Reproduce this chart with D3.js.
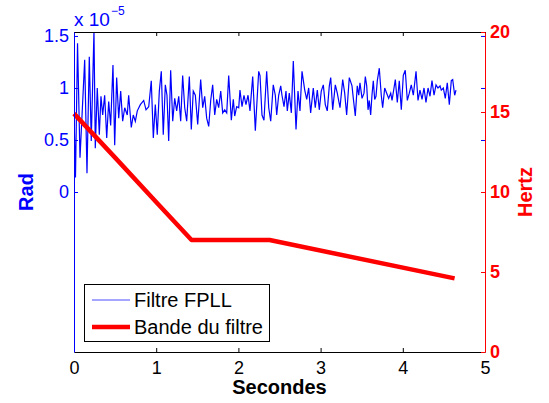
<!DOCTYPE html>
<html><head><meta charset="utf-8">
<script src="https://cdn.jsdelivr.net/npm/d3@7"></script>
<style>body{margin:0;background:#fff}svg{display:block}text{font-family:"Liberation Sans",Arial,sans-serif}</style>
</head><body><svg id="c" width="549" height="403"></svg>
<script>
// Filtre FPLL signal (Rad, in units of 1e-5) vs time (s)
const sigTime = [0,0.018,0.043,0.073,0.130,0.158,0.186,0.210,0.243,0.259,0.283,0.308,0.328,0.349,0.373,0.398,0.422,0.446,0.474,0.495,
0.519,0.544,0.568,0.592,0.617,0.648,0.665,0.697,0.721,0.746,0.770,0.807,0.848,0.876,0.909,0.940,0.965,0.989,1.013,1.038,
1.062,1.086,1.111,1.131,1.152,1.176,1.201,1.225,1.249,1.274,1.298,1.322,1.347,1.371,1.403,1.427,1.451,1.476,1.505,1.541,
1.566,1.590,1.614,1.639,1.663,1.687,1.712,1.736,1.760,1.785,1.809,1.833,1.858,1.882,1.914,1.938,1.955,1.979,2.004,2.019,
2.044,2.068,2.092,2.117,2.141,2.174,2.206,2.247,2.263,2.287,2.311,2.344,2.369,2.393,2.424,2.449,2.466,2.490,2.515,2.530,
2.555,2.579,2.595,2.619,2.644,2.668,2.701,2.725,2.749,2.774,2.807,2.831,2.855,2.879,2.911,2.935,2.960,2.984,3.008,3.033,
3.057,3.081,3.106,3.123,3.147,3.179,3.203,3.236,3.269,3.293,3.317,3.349,3.382,3.398,3.422,3.446,3.464,3.479,3.504,3.528,
3.544,3.561,3.577,3.592,3.609,3.625,3.641,3.658,3.674,3.690,3.714,3.738,3.755,3.780,3.804,3.828,3.853,3.869,3.893,3.909,
3.933,3.957,3.982,4.006,4.030,4.055,4.079,4.103,4.128,4.161,4.185,4.209,4.234,4.258,4.282,4.307,4.331,4.355,4.380,4.404,
4.428,4.453,4.468,4.493,4.517,4.541,4.566,4.590,4.607,4.631,4.647];
const sigRad = [0.75,0.14,1.43,0.33,1.27,0.18,1.30,0.49,1.55,0.42,1.00,0.55,0.92,0.74,0.93,0.52,0.87,0.64,1.22,0.45,
1.10,0.71,0.97,0.68,0.81,0.74,0.93,0.62,0.74,0.68,0.78,0.84,0.88,0.79,0.82,1.07,0.52,0.84,0.55,0.97,
1.16,0.55,1.03,0.93,0.49,1.17,0.68,0.90,0.78,0.92,0.68,1.12,0.81,0.68,1.11,0.60,0.97,0.93,0.65,1.08,
0.81,0.92,0.71,0.63,0.88,1.03,0.74,0.89,0.81,0.97,0.76,0.79,0.76,1.12,0.69,0.89,0.73,0.82,0.81,0.98,
0.82,0.93,0.84,0.93,0.78,1.11,0.59,1.16,1.12,0.74,0.69,1.16,0.81,0.68,1.03,0.93,0.74,0.93,1.02,0.93,
0.82,0.97,0.78,0.95,0.76,1.26,0.60,0.97,0.78,1.16,0.98,0.89,1.00,0.76,1.00,0.81,0.98,0.79,0.97,1.03,
0.84,0.78,1.02,1.10,0.79,1.03,0.95,0.81,1.08,0.95,0.74,1.10,1.02,0.90,0.73,1.02,0.93,1.05,0.90,0.95,
1.11,1.02,0.79,0.88,0.74,0.93,1.07,0.89,0.92,1.07,1.19,0.93,0.81,1.00,0.95,0.90,0.95,0.88,1.00,1.08,
0.86,1.07,0.79,1.12,1.17,0.88,0.95,1.03,0.93,1.16,0.88,0.98,0.89,1.00,0.86,1.00,0.92,1.07,0.93,1.03,
1.00,1.02,0.98,1.00,0.90,1.05,0.84,1.07,1.08,0.93,0.98];
// Bande du filtre (Hz) vs time (s)
const bandTime = [0, 0.5, 1.03, 1.43, 2.38, 4.63];
const bandHz = [14.9, 12.15, 9.2, 7.0, 7.0, 4.6];
const xTicks = [0, 1, 2, 3, 4, 5];
const radTicks = [0, 0.5, 1, 1.5];
const hzTicks = [0, 5, 10, 15, 20];
const legendLabels = ["Filtre FPLL", "Bande du filtre"];

const W = 549, H = 403, m = {l: 74, r: 64, t: 32, b: 51};
const svg = d3.select("#c");
const x = d3.scaleLinear().domain([0, 5]).range([m.l, W - m.r]);
const yL = d3.scaleLinear().domain([-1.538, 1.538]).range([H - m.b, m.t]);
const yR = d3.scaleLinear().domain([0, 20]).range([H - m.b, m.t]);
const BLUE = "#0000ff", RED = "#ff0000";

svg.append("defs").append("clipPath").attr("id", "clip").append("rect")
  .attr("x", m.l).attr("y", m.t).attr("width", W - m.l - m.r).attr("height", H - m.t - m.b);

const sig = sigTime.map((t, i) => [t, sigRad[i]]);
const band = bandTime.map((t, i) => [t, bandHz[i]]);

svg.append("path").datum(sig).attr("clip-path", "url(#clip)")
  .attr("fill", "none").attr("stroke", BLUE).attr("stroke-width", 1.2)
  .attr("d", d3.line().x(d => x(d[0])).y(d => yL(d[1])));

svg.append("path").datum(band)
  .attr("fill", "none").attr("stroke", RED).attr("stroke-width", 4.5).attr("stroke-linejoin", "round")
  .attr("d", d3.line().x(d => x(d[0])).y(d => yR(d[1])));

// axes
function style(g, color, size, weight) {
  g.selectAll("path.domain").attr("stroke", color);
  g.selectAll(".tick line").attr("stroke", color);
  g.selectAll(".tick text").attr("fill", color).style("font-size", size + "px").style("font-weight", weight);
}
const gB = svg.append("g").attr("transform", `translate(0,${H - m.b})`)
  .call(d3.axisBottom(x).tickValues(xTicks).tickSizeInner(-4).tickSizeOuter(0).tickPadding(9).tickFormat(d => d));
style(gB, "#000", 18, "normal");
const gT = svg.append("g").attr("transform", `translate(0,${m.t})`)
  .call(d3.axisTop(x).tickValues(xTicks).tickSizeInner(-4).tickSizeOuter(0).tickFormat(""));
style(gT, "#000", 18, "normal");
const gL = svg.append("g").attr("transform", `translate(${m.l},0)`)
  .call(d3.axisLeft(yL).tickValues(radTicks).tickSizeInner(-4).tickSizeOuter(0).tickPadding(5).tickFormat(d => String(d)));
style(gL, BLUE, 18, "normal");
const gL2 = svg.append("g").attr("transform", `translate(${W - m.r},0)`)
  .call(d3.axisRight(yL).tickValues(radTicks).tickSizeInner(-4).tickSizeOuter(0).tickFormat(""));
style(gL2, BLUE, 18, "normal");
gL2.select("path.domain").remove();
const gR = svg.append("g").attr("transform", `translate(${W - m.r},0)`)
  .call(d3.axisRight(yR).tickValues(hzTicks).tickSizeInner(-4).tickSizeOuter(0).tickPadding(5).tickFormat(d => String(d)));
style(gR, RED, 18, "bold");

// exponent
const ex = svg.append("text").attr("x", m.l).attr("y", 26).attr("fill", BLUE).style("font-size", "19px");
ex.append("tspan").text("x 10");
ex.append("tspan").attr("dy", -11).attr("dx", 1).style("font-size", "12px").text("\u22125");

// axis titles
svg.append("text").attr("x", (m.l + W - m.r) / 2).attr("y", 394).attr("text-anchor", "middle")
  .style("font-size", "20px").style("font-weight", "bold").attr("fill", "#000").text("Secondes");
svg.append("text").attr("transform", `translate(33,${(m.t + H - m.b) / 2}) rotate(-90)`).attr("text-anchor", "middle")
  .style("font-size", "20px").style("font-weight", "bold").attr("fill", BLUE).text("Rad");
svg.append("text").attr("transform", `translate(532,${(m.t + H - m.b) / 2}) rotate(-90)`).attr("text-anchor", "middle")
  .style("font-size", "20px").style("font-weight", "bold").attr("fill", RED).text("Hertz");

// legend
const lg = svg.append("g");
lg.append("rect").attr("x", 84.5).attr("y", 284.5).attr("width", 185).attr("height", 57)
  .attr("fill", "#fff").attr("stroke", "#000").attr("stroke-width", 1);
const entries = [{c: BLUE, w: 1, y: 300}, {c: RED, w: 4.5, y: 327}];
entries.forEach((e, i) => {
  lg.append("line").attr("x1", 92).attr("x2", 130).attr("y1", e.y).attr("y2", e.y)
    .attr("stroke", e.c).attr("stroke-width", e.w).attr("stroke-opacity", i === 0 ? 0.7 : 1);
  lg.append("text").attr("x", 134).attr("y", e.y + 7).style("font-size", "20px").attr("fill", "#000").text(legendLabels[i]);
});
</script></body></html>
